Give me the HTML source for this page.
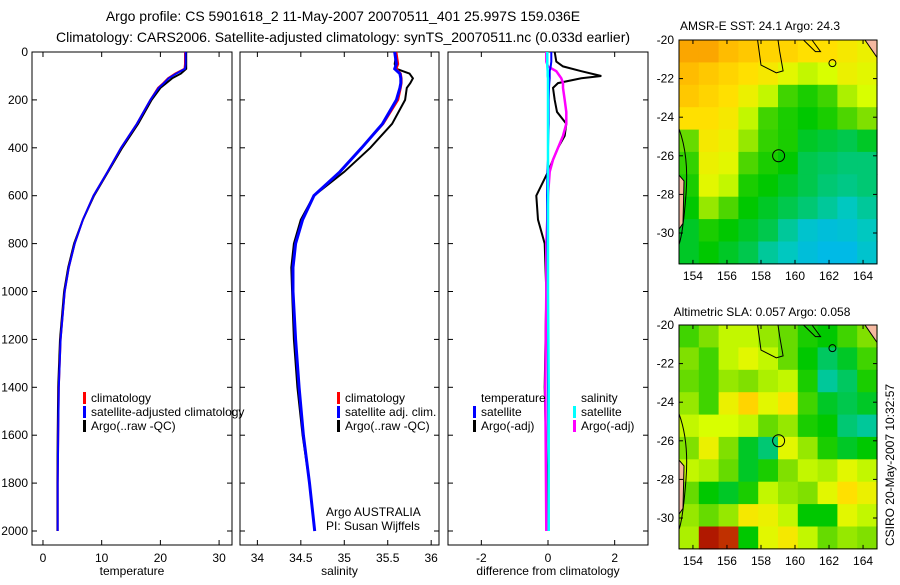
<!DOCTYPE html>
<html><head><meta charset="utf-8"><style>
body{margin:0;background:#fff;width:900px;height:580px;overflow:hidden;font-family:"Liberation Sans",sans-serif}
svg text{font-family:"Liberation Sans",sans-serif;fill:#000}
</style></head><body>
<svg id="chart" width="900" height="580" xmlns="http://www.w3.org/2000/svg">
<text x="343" y="21" font-size="14" text-anchor="middle">Argo profile: CS 5901618_2 11-May-2007 20070511_401 25.997S 159.036E</text>
<text x="343" y="42" font-size="14" text-anchor="middle">Climatology: CARS2006. Satellite-adjusted climatology: synTS_20070511.nc (0.033d earlier)</text>
<text x="760" y="30" font-size="12" text-anchor="middle">AMSR-E SST: 24.1 Argo: 24.3</text>
<text x="762" y="316" font-size="12" text-anchor="middle">Altimetric SLA: 0.057 Argo: 0.058</text>
<text transform="translate(894,465) rotate(-90)" font-size="12" text-anchor="middle">CSIRO 20-May-2007 10:32:57</text>
<g id="panels"></g>
<g id="maps"></g>
</svg>
<script>
// ---- profile data ----
const depths = [0,50,70,90,110,130,150,200,300,400,500,600,700,800,900,1000,1200,1400,1600,1800,2000];
const climT = [24.2,24.2,24.1,22.5,21.3,20.5,19.6,18.3,16.0,13.3,11.0,8.6,6.8,5.4,4.4,3.7,3.0,2.7,2.6,2.5,2.5];
const satT  = [24.3,24.3,24.2,22.7,21.4,20.6,19.7,18.3,16.0,13.3,11.0,8.6,6.8,5.4,4.4,3.7,3.0,2.7,2.6,2.5,2.5];
const argoT = [24.4,24.4,24.4,23.5,22.0,21.0,20.0,18.5,16.2,13.5,11.1,8.7,6.8,5.3,4.3,3.6,2.9,2.6,2.5,2.45,2.45];
const climS = [35.6,35.62,35.6,35.65,35.66,35.66,35.65,35.62,35.45,35.2,34.95,34.65,34.52,34.44,34.41,34.41,34.44,34.48,34.53,34.6,34.66];
const satS  = [35.58,35.6,35.58,35.64,35.65,35.65,35.64,35.6,35.44,35.2,34.95,34.65,34.52,34.44,34.41,34.41,34.44,34.48,34.53,34.6,34.66];
const argoS = [35.6,35.58,35.6,35.75,35.79,35.76,35.72,35.7,35.55,35.3,35.0,34.65,34.5,34.42,34.39,34.40,34.42,34.46,34.52,34.6,34.66];
const diffDepths = [0,40,60,80,100,110,130,150,200,250,300,350,400,450,500,600,700,800,1000,1400,2000];
const diffTSat  = [0.1,0.1,0.08,0.05,0.05,0.05,0.04,0.03,0.02,0.02,0.02,0.01,0.0,0.0,-0.02,-0.03,-0.02,-0.02,0.0,0.0,0.02];
const diffTArgo = [0.2,0.25,0.45,1.0,1.6,1.0,0.3,0.15,0.2,0.27,0.55,0.5,0.3,0.15,0.0,-0.35,-0.3,-0.1,-0.05,-0.1,0.0];
const diffSSat  = [-0.02,-0.02,-0.02,-0.01,-0.01,0.0,0.0,0.0,0.0,0.0,0.0,0.0,0.0,0.0,0.0,0.0,0.0,0.0,0.0,0.02,0.02];
const diffSArgo = [-0.05,-0.05,0.0,0.25,0.35,0.4,0.45,0.45,0.5,0.55,0.55,0.45,0.3,0.15,0.05,0.0,-0.02,-0.05,-0.05,-0.08,-0.05];
const depthTicks = [0,200,400,600,800,1000,1200,1400,1600,1800,2000];
const tTicks = [0,10,20,30];
const sTicks = [34,34.5,35,35.5,36];
const sTickLabels = ["34","34.5","35","35.5","36"];
const dTicks = [-2,0,2];
// ---- map data (values 0..1 on colour scale) ----
const sstGrid = [
[.85,.85,.82,.80,.78,.78,.76,.76,.74,.72],
[.82,.80,.78,.76,.74,.70,.66,.68,.72,.70],
[.80,.78,.76,.72,.66,.55,.52,.55,.64,.68],
[.76,.76,.74,.66,.55,.52,.50,.52,.56,.60],
[.58,.74,.72,.62,.54,.52,.48,.47,.46,.48],
[.54,.72,.70,.56,.52,.50,.46,.45,.44,.44],
[.52,.70,.66,.52,.50,.48,.46,.44,.43,.44],
[.50,.62,.56,.50,.48,.46,.44,.42,.40,.42],
[.48,.52,.50,.48,.46,.42,.38,.36,.37,.40],
[.48,.50,.48,.46,.42,.40,.36,.34,.34,.38]];
const slaGrid = [
[.55,.60,.66,.66,.62,.58,.52,.50,.55,.60],
[.60,.55,.66,.70,.66,.58,.50,.45,.48,.55],
[.58,.55,.62,.60,.64,.66,.52,.42,.45,.52],
[.62,.55,.72,.78,.70,.75,.55,.48,.46,.48],
[.66,.68,.68,.66,.58,.62,.52,.50,.44,.42],
[.60,.72,.60,.48,.44,.70,.62,.52,.48,.50],
[.66,.64,.58,.48,.52,.60,.66,.64,.70,.66],
[.58,.50,.48,.52,.66,.62,.60,.70,.76,.72],
[.62,.58,.62,.74,.72,.66,.50,.50,.70,.66],
[.64,.98,.96,.50,.70,.74,.66,.58,.62,.60]];
const lonTicks = [154,156,158,160,162,164];
const latTicks = [-20,-22,-24,-26,-28,-30];

const NS="http://www.w3.org/2000/svg";
function mk(tag,attrs,parent){const e=document.createElementNS(NS,tag);for(const k in attrs)e.setAttribute(k,attrs[k]);parent.appendChild(e);return e;}
const panelsG=document.getElementById('panels');
const plotTop=52, plotBot=545;
const yD=d=>plotTop+d*0.2395;

function panel(name,x0,x1,vmin,vmax,ticks,labels,xlabel,series,dep,showY){
  const g=mk('g',{},panelsG);
  
  
  const sx=v=>x0+(v-vmin)/(vmax-vmin)*(x1-x0);
  const r=mk('rect',{x:x0,y:plotTop,width:x1-x0,height:plotBot-plotTop,fill:'none',stroke:'#000','stroke-width':1},g);
  
  
  ticks.forEach((t,i)=>{const x=sx(t);
    mk('line',{x1:x,x2:x,y1:plotBot,y2:plotBot-5,stroke:'#000'},g);
    mk('line',{x1:x,x2:x,y1:plotTop,y2:plotTop+5,stroke:'#000'},g);
    const tx=mk('text',{x:x,y:plotBot+17,'font-size':12,'text-anchor':'middle'},g);tx.textContent=labels[i];
    
    });
  depthTicks.forEach(d=>{const y=yD(d);
    mk('line',{x1:x0,x2:x0+5,y1:y,y2:y,stroke:'#000'},g);
    mk('line',{x1:x1,x2:x1-5,y1:y,y2:y,stroke:'#000'},g);
    if(showY){const tx=mk('text',{x:x0-4,y:y+4,'font-size':12,'text-anchor':'end'},g);tx.textContent=d;
      
      }});
  const xl=mk('text',{x:(x0+x1)/2,y:575,'font-size':12,'text-anchor':'middle'},g);xl.textContent=xlabel;
  
  
  series.forEach(s=>{const pts=s.v.map((v,i)=>sx(v).toFixed(1)+','+yD(dep[i]).toFixed(1)).join(' ');
    const pl=mk('polyline',{points:pts,fill:'none',stroke:s.c,'stroke-width':s.w},g);
    
    });
  return g;
}
panel('temperature-panel',32,232,-1.87,32.2,tTicks,tTicks.map(String),'temperature',
 [{v:argoT,c:'#000',w:2,n:'argo-temperature-line'},{v:climT,c:'#f00',w:2,n:'climatology-temperature-line'},{v:satT,c:'#00f',w:2,n:'satellite-temperature-line'}],depths,true);
panel('salinity-panel',240,439,33.8,36.09,sTicks,sTickLabels,'salinity',
 [{v:argoS,c:'#000',w:2,n:'argo-salinity-line'},{v:climS,c:'#f00',w:2,n:'climatology-salinity-line'},{v:satS,c:'#00f',w:3,n:'satellite-salinity-line'}],depths,false);
panel('difference-panel',448,648,-3,3,dTicks,dTicks.map(String),'difference from climatology',
 [{v:diffTArgo,c:'#000',w:2,n:'argo-temperature-diff-line'},{v:diffSArgo,c:'#f0f',w:2.5,n:'argo-salinity-diff-line'},{v:diffTSat,c:'#00f',w:2,n:'satellite-temperature-diff-line'},{v:diffSSat,c:'#0ff',w:2.5,n:'satellite-salinity-diff-line'}],diffDepths,false);

function leg(x,y,c,txt,name){
  const r=mk('rect',{x:x,y:y-10,width:3,height:12,fill:c},panelsG);
  
  
  const t=mk('text',{x:x+8,y:y,'font-size':12},panelsG);t.textContent=txt;
  
  
}
leg(83,402,'#f00','climatology','legend-climatology');
leg(83,416,'#00f','satellite-adjusted climatology','legend-satellite-adjusted');
leg(83,430,'#000','Argo(..raw -QC)','legend-argo');
leg(337,402,'#f00','climatology','legend-climatology-2');
leg(337,416,'#00f','satellite adj. clim.','legend-satellite-adj-2');
leg(337,430,'#000','Argo(..raw -QC)','legend-argo-2');
(function(){const t=mk('text',{x:481,y:402,'font-size':12},panelsG);t.textContent='temperature';

const s=mk('text',{x:581,y:402,'font-size':12},panelsG);s.textContent='salinity';

const a=mk('text',{x:326,y:516,'font-size':12},panelsG);a.textContent='Argo AUSTRALIA';

const p=mk('text',{x:326,y:530,'font-size':12},panelsG);p.textContent='PI: Susan Wijffels';
})();
leg(473,416,'#00f','satellite','legend-temp-satellite');
leg(473,430,'#000','Argo(-adj)','legend-temp-argo');
leg(573,416,'#0ff','satellite','legend-sal-satellite');
leg(573,430,'#f0f','Argo(-adj)','legend-sal-argo');

const stops=[[0.3,[0,176,255]],[0.4,[0,200,192]],[0.5,[0,200,0]],[0.6,[128,224,0]],[0.68,[216,255,0]],[0.76,[255,224,0]],[0.84,[255,176,0]],[0.92,[224,96,0]],[1,[160,0,0]]];
function cmap(v){if(v<=stops[0][0])return 'rgb('+stops[0][1]+')';
 for(let i=1;i<stops.length;i++){if(v<=stops[i][0]){const a=stops[i-1],b=stops[i],f=(v-a[0])/(b[0]-a[0]);
  return 'rgb('+a[1].map((c,k)=>Math.round(c+(b[1][k]-c)*f)).join(',')+')';}}
 return 'rgb('+stops[stops.length-1][1]+')';}
const mapsG=document.getElementById('maps');
function map(name,grid,yTop){
  const g=mk('g',{},mapsG);
  
  
  const x0=679,x1=877,lon0=153.18,lon1=164.82;
  const y20=yTop, ppd=19.3, lat1=-31.6;
  const sx=l=>x0+(l-lon0)/(lon1-lon0)*(x1-x0);
  const sy=l=>y20+(-20-l)*ppd;
  const rows=grid.length, cols=grid[0].length;
  const cw=(x1-x0)/cols, ch=(sy(lat1)-y20)/rows;
  grid.forEach((row,r)=>row.forEach((v,c)=>{
    const cell=mk('rect',{x:(x0+c*cw).toFixed(1),y:(y20+r*ch).toFixed(1),width:(cw+0.6).toFixed(1),height:(ch+0.6).toFixed(1),fill:cmap(v)},g);
    
    }));
  mk('path',{d:`M${x0} ${sy(-27)} L${x0+5} ${sy(-27.3)} L${x0+4} ${sy(-29.5)} L${x0} ${sy(-29.8)} Z`,fill:'#f5b9a0',stroke:'#000','stroke-width':1},g);
  mk('path',{d:`M${x1-12} ${y20} L${x1} ${y20} L${x1} ${sy(-20.9)} Z`,fill:'#f5b9a0',stroke:'#000','stroke-width':1},g);
  mk('path',{d:`M${x0} ${sy(-24.6)} Q${x0+10} ${sy(-26)} ${x0+7} ${sy(-28)} Q${x0+4} ${sy(-30)} ${x0} ${sy(-30.6)}`,fill:'none',stroke:'#000','stroke-width':1},g);
  mk('path',{d:`M${sx(157.8)} ${y20} L${sx(158)} ${sy(-21.3)} L${sx(158.9)} ${sy(-21.7)} L${sx(159.3)} ${sy(-21.6)} L${sx(159.1)} ${sy(-20.6)} L${sx(159)} ${y20}`,fill:'none',stroke:'#000','stroke-width':1},g);
  mk('path',{d:`M${sx(160.5)} ${y20} L${sx(161.2)} ${sy(-20.6)} L${sx(161.5)} ${sy(-20.6)} L${sx(161)} ${y20}`,fill:'none',stroke:'#000','stroke-width':1},g);
  mk('circle',{cx:sx(162.2),cy:sy(-21.2),r:3.5,fill:'none',stroke:'#000'},g);
  const argo=mk('circle',{cx:sx(159.036),cy:sy(-25.997),r:6,fill:'none',stroke:'#000','stroke-width':1},g);
  
  
  mk('rect',{x:x0,y:y20,width:x1-x0,height:sy(lat1)-y20,fill:'none',stroke:'#000'},g);
  lonTicks.forEach(l=>{const x=sx(l);
    mk('line',{x1:x,x2:x,y1:sy(lat1),y2:sy(lat1)-4,stroke:'#000'},g);
    mk('line',{x1:x,x2:x,y1:y20,y2:y20+4,stroke:'#000'},g);
    const t=mk('text',{x:x,y:sy(lat1)+16,'font-size':12,'text-anchor':'middle'},g);t.textContent=l;
    
    });
  latTicks.forEach(l=>{const y=sy(l);
    mk('line',{x1:x0,x2:x0+4,y1:y,y2:y,stroke:'#000'},g);
    mk('line',{x1:x1,x2:x1-4,y1:y,y2:y,stroke:'#000'},g);
    const t=mk('text',{x:x0-5,y:y+4,'font-size':12,'text-anchor':'end'},g);t.textContent=l;
    
    });
}
map('sst-map',sstGrid,40);
map('sla-map',slaGrid,325);
</script>
</body></html>
